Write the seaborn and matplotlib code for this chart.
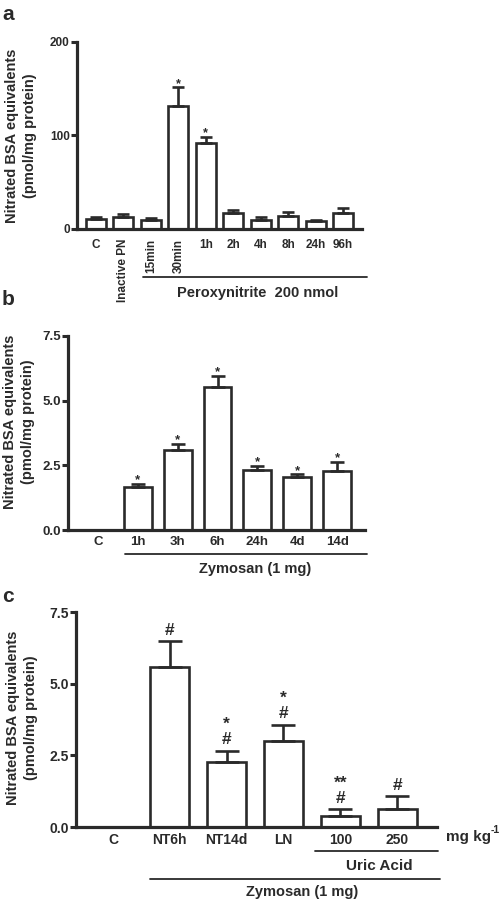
import numpy as np
import pandas as pd
import seaborn as sns
import matplotlib.pyplot as plt
from matplotlib.transforms import blended_transform_factory

# ---------------- Data ----------------
a_labels = ['C', 'Inactive PN', '15min', '30min', '1h', '2h', '4h', '8h', '24h', '96h']
a_mean = [11.0, 12.8, 10.0, 131.4, 92.4, 17.0, 10.0, 14.2, 8.5, 17.0]
a_sem = [1.4, 2.8, 1.4, 19.9, 5.6, 3.6, 3.0, 3.6, 1.1, 5.7]
a_star = ['', '', '', '*', '*', '', '', '', '', '']
a_rotated = ['Inactive PN', '15min', '30min']

b_labels = ['C', '1h', '3h', '6h', '24h', '4d', '14d']
b_mean = [0.0, 1.68, 3.09, 5.52, 2.32, 2.04, 2.28]
b_sem = [0.0, 0.11, 0.23, 0.45, 0.15, 0.11, 0.36]
b_star = ['', '*', '*', '*', '*', '*', '*']

c_labels = ['C', 'NT6h', 'NT14d', 'LN', '100', '250']
c_mean = [0.0, 5.59, 2.27, 3.00, 0.40, 0.63]
c_sem = [0.0, 0.89, 0.38, 0.56, 0.22, 0.44]
c_hash = ['', '#', '#', '#', '#', '#']
c_star = ['', '', '*', '*', '**', '']

INK = '#2a2a2a'

sns.set_style('ticks')
plt.rcParams['font.family'] = ['Liberation Sans', 'DejaVu Sans']
plt.rcParams['font.weight'] = 'bold'
plt.rcParams['text.color'] = INK
plt.rcParams['axes.labelcolor'] = INK
plt.rcParams['xtick.color'] = INK
plt.rcParams['ytick.color'] = INK
plt.rcParams['axes.edgecolor'] = INK

fig = plt.figure(figsize=(5.02, 9.0), dpi=100)
ax_a = fig.add_axes([0.1534, 0.7456, 0.5677, 0.2078])
ax_b = fig.add_axes([0.1355, 0.4111, 0.5916, 0.2156])
ax_c = fig.add_axes([0.1514, 0.0811, 0.7191, 0.2389])


def bar_panel(ax, labels, mean, sem, width, capsize, tick_fs, ylim, yticks, yticklabels):
    df = pd.DataFrame({'group': labels, 'value': mean})
    sns.barplot(data=df, x='group', y='value', order=labels, color='white',
                edgecolor=INK, linewidth=1.9, width=width, errorbar=None,
                saturation=1, ax=ax, zorder=2)
    x = np.arange(len(labels))
    ax.errorbar(x, mean, yerr=[np.zeros(len(sem)), sem], fmt='none',
                ecolor=INK, elinewidth=1.9, capsize=capsize, capthick=1.9, zorder=3)
    ax.set_ylim(*ylim)
    ax.set_yticks(yticks)
    ax.set_yticklabels(yticklabels, fontsize=tick_fs, fontweight='bold')
    ax.set_xticks(x)
    ax.set_xticklabels(labels, fontsize=tick_fs, fontweight='bold')
    ax.set_xlabel('')
    ax.set_ylabel('Nitrated BSA equivalents\n(pmol/mg protein)', fontsize=10.5,
                  fontweight='bold', va='center', linespacing=1.35)
    sns.despine(ax=ax)
    for s in ['left', 'bottom']:
        ax.spines[s].set_linewidth(2.3)
    ax.tick_params(axis='y', length=4.5, width=2.2, pad=0.8)
    ax.tick_params(axis='x', length=0)
    ax.set_facecolor('none')


def group_line(ax, x0, x1, y, text=None, ty=None, tx=None, fs=10.5):
    tr = blended_transform_factory(ax.transData, ax.transAxes)
    ax.plot([x0, x1], [y, y], color=INK, lw=1.3, transform=tr, clip_on=False)
    if text:
        ax.text(tx, ty, text, transform=tr, ha='center', va='center',
                fontsize=fs, fontweight='bold')


# ---------------- Panel a ----------------
bar_panel(ax_a, a_labels, a_mean, a_sem, 0.73, 4.3, 8.5, (0, 200),
          [0, 100, 200], ['0', '100', '200'])
ax_a.set_xlim(-0.69, 9.69)
ax_a.tick_params(axis='x', pad=7)
for lab in ax_a.get_xticklabels():
    if lab.get_text() in a_rotated:
        lab.set_rotation(90)
        lab.set_va('top')
ax_a.yaxis.set_label_coords(-0.196, 0.50)
for i, s in enumerate(a_star):
    if s:
        ax_a.annotate(s, (i, a_mean[i] + a_sem[i]), xytext=(0, 0.5),
                      textcoords='offset points', ha='center', va='baseline',
                      fontsize=9, fontweight='bold')
group_line(ax_a, 1.72, 9.89, -0.257, 'Peroxynitrite  200 nmol', -0.342, 5.88)

# ---------------- Panel b ----------------
bar_panel(ax_b, b_labels, b_mean, b_sem, 0.70, 4.7, 9.5, (0, 7.5),
          [0, 2.5, 5.0, 7.5], ['0.0', '2.5', '5.0', '7.5'])
ax_b.set_xlim(-0.75, 6.70)
ax_b.tick_params(axis='x', pad=4)
ax_b.yaxis.set_label_coords(-0.165, 0.557)
for i, s in enumerate(b_star):
    if s:
        ax_b.annotate(s, (i, b_mean[i] + b_sem[i]), xytext=(0, 0.5),
                      textcoords='offset points', ha='center', va='baseline',
                      fontsize=9.5, fontweight='bold')
group_line(ax_b, 0.68, 6.76, -0.124, 'Zymosan (1 mg)', -0.20, 3.94)

# ---------------- Panel c ----------------
bar_panel(ax_c, c_labels, c_mean, c_sem, 0.68, 8.3, 10, (0, 7.5),
          [0, 2.5, 5.0, 7.5], ['0.0', '2.5', '5.0', '7.5'])
ax_c.set_xlim(-0.65, 5.70)
ax_c.tick_params(axis='x', pad=4)
ax_c.yaxis.set_label_coords(-0.150, 0.51)
for i in range(len(c_labels)):
    top = c_mean[i] + c_sem[i]
    if c_hash[i]:
        ax_c.annotate(c_hash[i], (i, top), xytext=(0, 4.8),
                      textcoords='offset points', ha='center', va='baseline',
                      fontsize=12.5, fontweight='bold')
    if c_star[i]:
        ax_c.annotate(c_star[i], (i, top), xytext=(0, 15.8 if c_hash[i] else 4.8),
                      textcoords='offset points', ha='center', va='baseline',
                      fontsize=12.5, fontweight='bold')
tr_c = blended_transform_factory(ax_c.transData, ax_c.transAxes)
unit = ax_c.text(5.85, -0.047, 'mg kg', transform=tr_c, ha='left', va='center',
                 fontsize=11, fontweight='bold')
ax_c.annotate('-1', xy=(1.0, 1.0), xycoords=unit, ha='left', va='center',
              fontsize=7.5, fontweight='bold')
group_line(ax_c, 3.56, 5.72, -0.112, 'Uric Acid', -0.181, 4.68, fs=11)
group_line(ax_c, 0.65, 5.76, -0.242, 'Zymosan (1 mg)', -0.302, 3.33)

# ---------------- Panel letters ----------------
fig.text(0.004, 1 - 15 / 900, 'a', fontsize=15, fontweight='bold', va='center')
fig.text(0.004, 1 - 300 / 900, 'b', fontsize=15, fontweight='bold', va='center')
fig.text(0.004, 1 - 596 / 900, 'c', fontsize=15, fontweight='bold', va='center')

fig.savefig('out.png', dpi=100, facecolor='white')
